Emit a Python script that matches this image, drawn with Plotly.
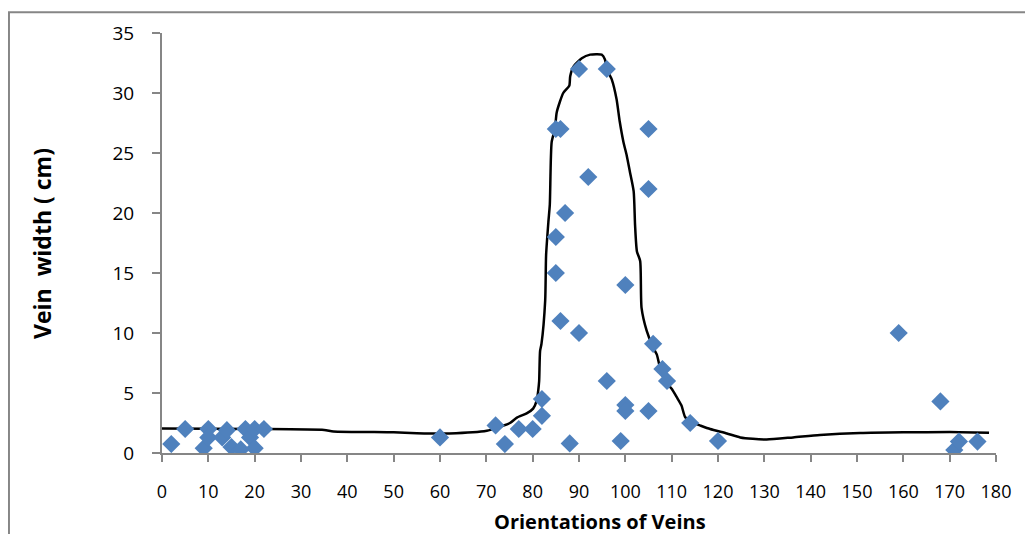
import plotly.graph_objects as go

# Scatter data: orientation (deg) vs vein width (cm)
orient = [2, 5, 9, 10, 10, 13, 14, 15, 17, 18, 19, 20, 20, 22,
          60, 72, 74, 77, 80, 82, 82, 85, 86, 87, 85, 85, 86, 90, 88, 90,
          92, 96, 96, 99, 100, 100, 100, 105, 105, 105, 106, 108, 109, 114, 120,
          159, 168, 171, 172, 176]
width = [0.75, 2, 0.4, 2, 1.3, 1.3, 1.9, 0.5, 0.3, 2, 1.3, 2, 0.4, 2,
         1.3, 2.3, 0.75, 2, 2, 3.1, 4.5, 27, 27, 20, 18, 15, 11, 32, 0.8, 10,
         23, 32, 6, 1, 4, 3.5, 14, 27, 22, 3.5, 9.1, 7, 6, 2.5, 1,
         10, 4.3, 0.25, 0.95, 0.95]

# Fitted curve
curve_x = [0, 20, 35, 37, 50, 55, 62, 70.1, 73, 75.1, 76.6, 78.7, 80.1, 80.9, 81.2, 81.4,
           81.6, 81.9, 82.7, 82.9, 83.4, 83.7, 84.1, 84.8, 85.2, 86.6, 87.9, 88.1, 88.8,
           90.6, 92.4, 94.9, 95.6, 96, 97.1, 98.1, 98.8, 99.6, 100.3, 101, 101.8, 102.1,
           102.5, 103.2, 103.5, 104.6, 106, 106.8, 107.5, 108.6, 110, 111.1, 112.1, 112.9,
           114, 116.1, 118.3, 121.9, 124.8, 127.5, 130.5, 136.2, 142, 150.7, 160, 170, 178.5]
curve_y = [2.05, 2.0, 1.92, 1.8, 1.72, 1.65, 1.63, 1.85, 2.2, 2.5, 2.95, 3.3, 3.7, 4.4, 5.2, 6,
           8.5, 9.1, 12.7, 16.5, 19.3, 20.7, 25.9, 27, 28.4, 30, 30.6, 31.4, 32.2,
           32.9, 33.2, 33.2, 32.8, 32, 31.1, 29.5, 27.6, 25.9, 24.8, 23.4, 21.8, 19,
           16.8, 16, 12.1, 10.2, 8.8, 8.2, 7.1, 6, 5.35, 4.65, 3.97, 3.0,
           2.6, 2.3, 2.0, 1.63, 1.3, 1.18, 1.13, 1.3, 1.49, 1.66, 1.72, 1.74, 1.68]

x_ticks = list(range(0, 181, 10))
y_ticks = list(range(0, 36, 5))

FONT = "Open Sans"

fig = go.Figure()
fig.add_trace(go.Scatter(
    x=curve_x, y=curve_y, mode="lines",
    line=dict(color="black", width=2.5, shape="spline", smoothing=0.6),
    hoverinfo="skip", showlegend=False))
fig.add_trace(go.Scatter(
    x=orient, y=width, mode="markers",
    marker=dict(symbol="diamond", size=14, color="#4F81BD", line=dict(width=0)),
    showlegend=False))

# page body has an 8px margin, so the figure is 16px smaller than the window
fig.update_layout(
    width=1017, height=526,
    margin=dict(l=154, r=29, t=22, b=81),
    paper_bgcolor="white", plot_bgcolor="white",
    font=dict(family=FONT, size=18, color="black"),
    showlegend=False,
    xaxis=dict(range=[0, 180], tickvals=x_ticks, ticktext=[str(v) for v in x_ticks],
               showgrid=False, zeroline=False, showline=True, linecolor="#868686",
               linewidth=2, ticks="outside", ticklen=7, tickcolor="#868686", tickwidth=2,
               ticklabelstandoff=14, tickfont=dict(size=18)),
    yaxis=dict(range=[0, 35], tickvals=y_ticks, ticktext=[str(v) for v in y_ticks],
               showgrid=False, zeroline=False, showline=True, linecolor="#868686",
               linewidth=2, ticks="outside", ticklen=8, tickcolor="#868686", tickwidth=2,
               ticklabelstandoff=14, tickfont=dict(size=19)),
    annotations=[
        dict(text="<b>Orientations of Veins</b>", xref="paper", yref="paper",
             x=0.525, y=-0.164, showarrow=False, font=dict(size=20, family=FONT),
             xanchor="center", yanchor="middle"),
        dict(text="<b>Vein\u00a0\u00a0width ( cm)</b>", xref="paper", yref="paper",
             x=-0.1439, y=0.5, showarrow=False, textangle=-90,
             font=dict(size=23, family=FONT), xanchor="center", yanchor="middle"),
    ],
    shapes=[dict(type="rect", xref="paper", yref="paper",
                 x0=-0.1835, x1=1.2, y0=-0.4, y1=1.0496,
                 line=dict(color="#868686", width=2), fillcolor="rgba(0,0,0,0)",
                 layer="below")],
)

fig.write_html("out.html")
